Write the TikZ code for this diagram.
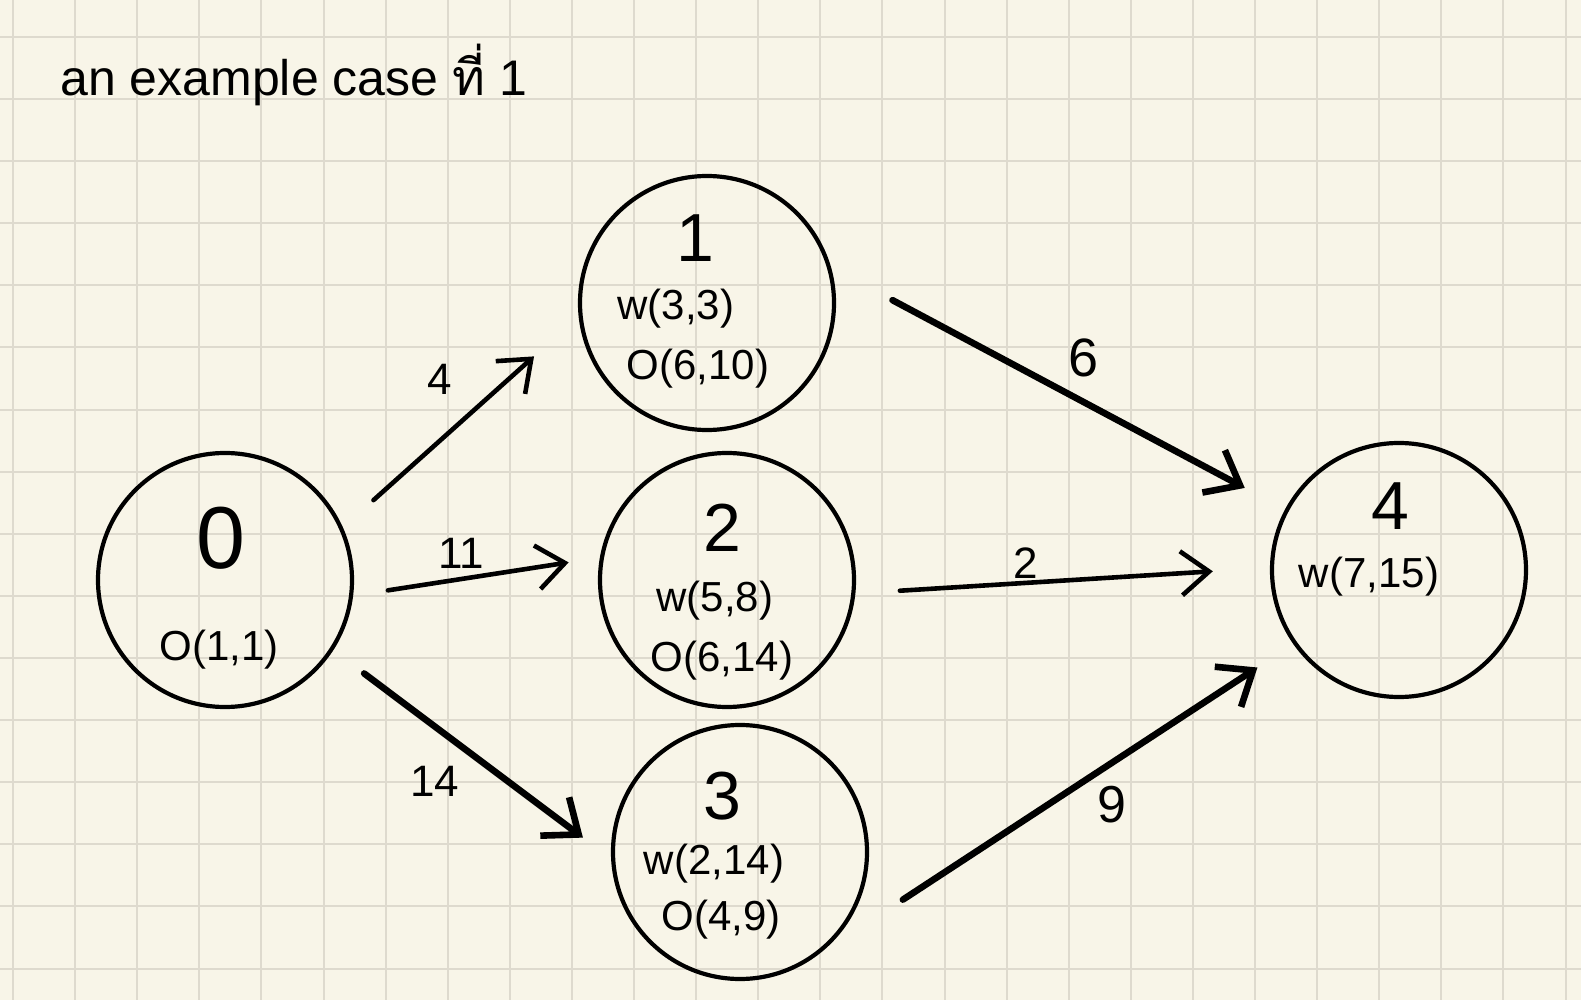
\documentclass[tikz,border=0pt]{standalone}
\usepackage{fontspec}
\setmainfont{Liberation Sans}
\newfontfamily\thaifont[Script=Thai]{Loma}
\usetikzlibrary{arrows.meta}
\definecolor{paper}{RGB}{248,245,232}
\definecolor{gridc}{RGB}{222,218,206}
\begin{document}
\begin{tikzpicture}[x=0.5pt,y=-0.5pt,
  gridline/.style={gridc, line width=1pt},
  state/.style={circle, draw=black, line width=2.1pt, minimum size=127pt, inner sep=0pt},
  bigdigit/.style={inner sep=0pt, font=\fontsize{34}{36}\selectfont},
  info/.style={inner sep=0pt, font=\fontsize{21}{23}\selectfont},
  wlabel/.style={inner sep=0pt, font=\fontsize{22}{24}\selectfont},
  thin/.style={line width=2.3pt, line cap=round, -{Straight Barb[length=14pt,width=22pt]}},
  heavy/.style={line width=3.3pt, line cap=round, -{Straight Barb[length=15pt,width=24pt]}}
]
\useasboundingbox (0,0) rectangle (1581,1000);
\fill[paper] (0,0) rectangle (1581,1000);
\foreach \i in {0,...,25} \draw[gridline] ({13+62.1*\i},0) -- ({13+62.1*\i},1000);
\foreach \j in {0,...,15} \draw[gridline] (0,{37+62.1*\j}) -- (1581,{37+62.1*\j});

% title
\node[anchor=base west, inner sep=0pt, font=\fontsize{25}{27}\selectfont] (title) at (60,96)
  {an example case {\thaifont ที่} 1};

% circles
\node[state] (n0) at (225,580) {};
\node[state] (n1) at (707,303) {};
\node[state] (n2) at (727,580) {};
\node[state] (n3) at (740,852) {};
\node[state] (n4) at (1399,570) {};

% texts in circles
\node[inner sep=0pt, font=\fontsize{44}{46}\selectfont] (t0a) at (221,538) {0};
\node[info] (t0b) at (219,650) {O(1,1)};
\node[bigdigit] (t1a) at (695,238) {1};
\node[info] (t1b) at (676,309) {w(3,3)};
\node[info] (t1c) at (698,369) {O(6,10)};
\node[bigdigit] (t2a) at (722,528) {2};
\node[info] (t2b) at (715,601) {w(5,8)};
\node[info] (t2c) at (722,661) {O(6,14)};
\node[bigdigit] (t3a) at (722,796) {3};
\node[info] (t3b) at (714,864) {w(2,14)};
\node[info] (t3c) at (721,920) {O(4,9)};
\node[bigdigit] (t4a) at (1390,506) {4};
\node[info] (t4b) at (1369,577) {w(7,15)};

% connectors
\draw[thin]  (n0.24.7)  -- (n1.186.9) [shorten <=20.5pt, shorten >=29.9pt];
\draw[thin]  (n0.-7.5)  -- (n2.170.9) [shorten <=17.6pt, shorten >=15.8pt];
\draw[heavy] (n0.-33.9) -- (n3.183.1) [shorten <=19.3pt, shorten >=17.6pt];
\draw[heavy] (n1.16.6)  -- (n4.152.0) [shorten <=34.8pt, shorten >=22.8pt];
\draw[thin]  (n2.-6.5)  -- (n4.179.5) [shorten <=22.3pt, shorten >=28.6pt];
\draw[heavy] (n3.-56.4) -- (n4.215.2) [shorten <=54.2pt, shorten >=21.4pt];

% edge labels
\node[wlabel] (l01) at (440,379) {4};
\node[wlabel] (l02) at (461,553) {11};
\node[wlabel] (l03) at (435,781) {14};
\node[wlabel, font=\fontsize{27}{29}\selectfont] (l14) at (1084,358) {6};
\node[wlabel] (l24) at (1026,563) {2};
\node[wlabel, font=\fontsize{26}{28}\selectfont] (l34) at (1112,805) {9};
\end{tikzpicture}
\end{document}
